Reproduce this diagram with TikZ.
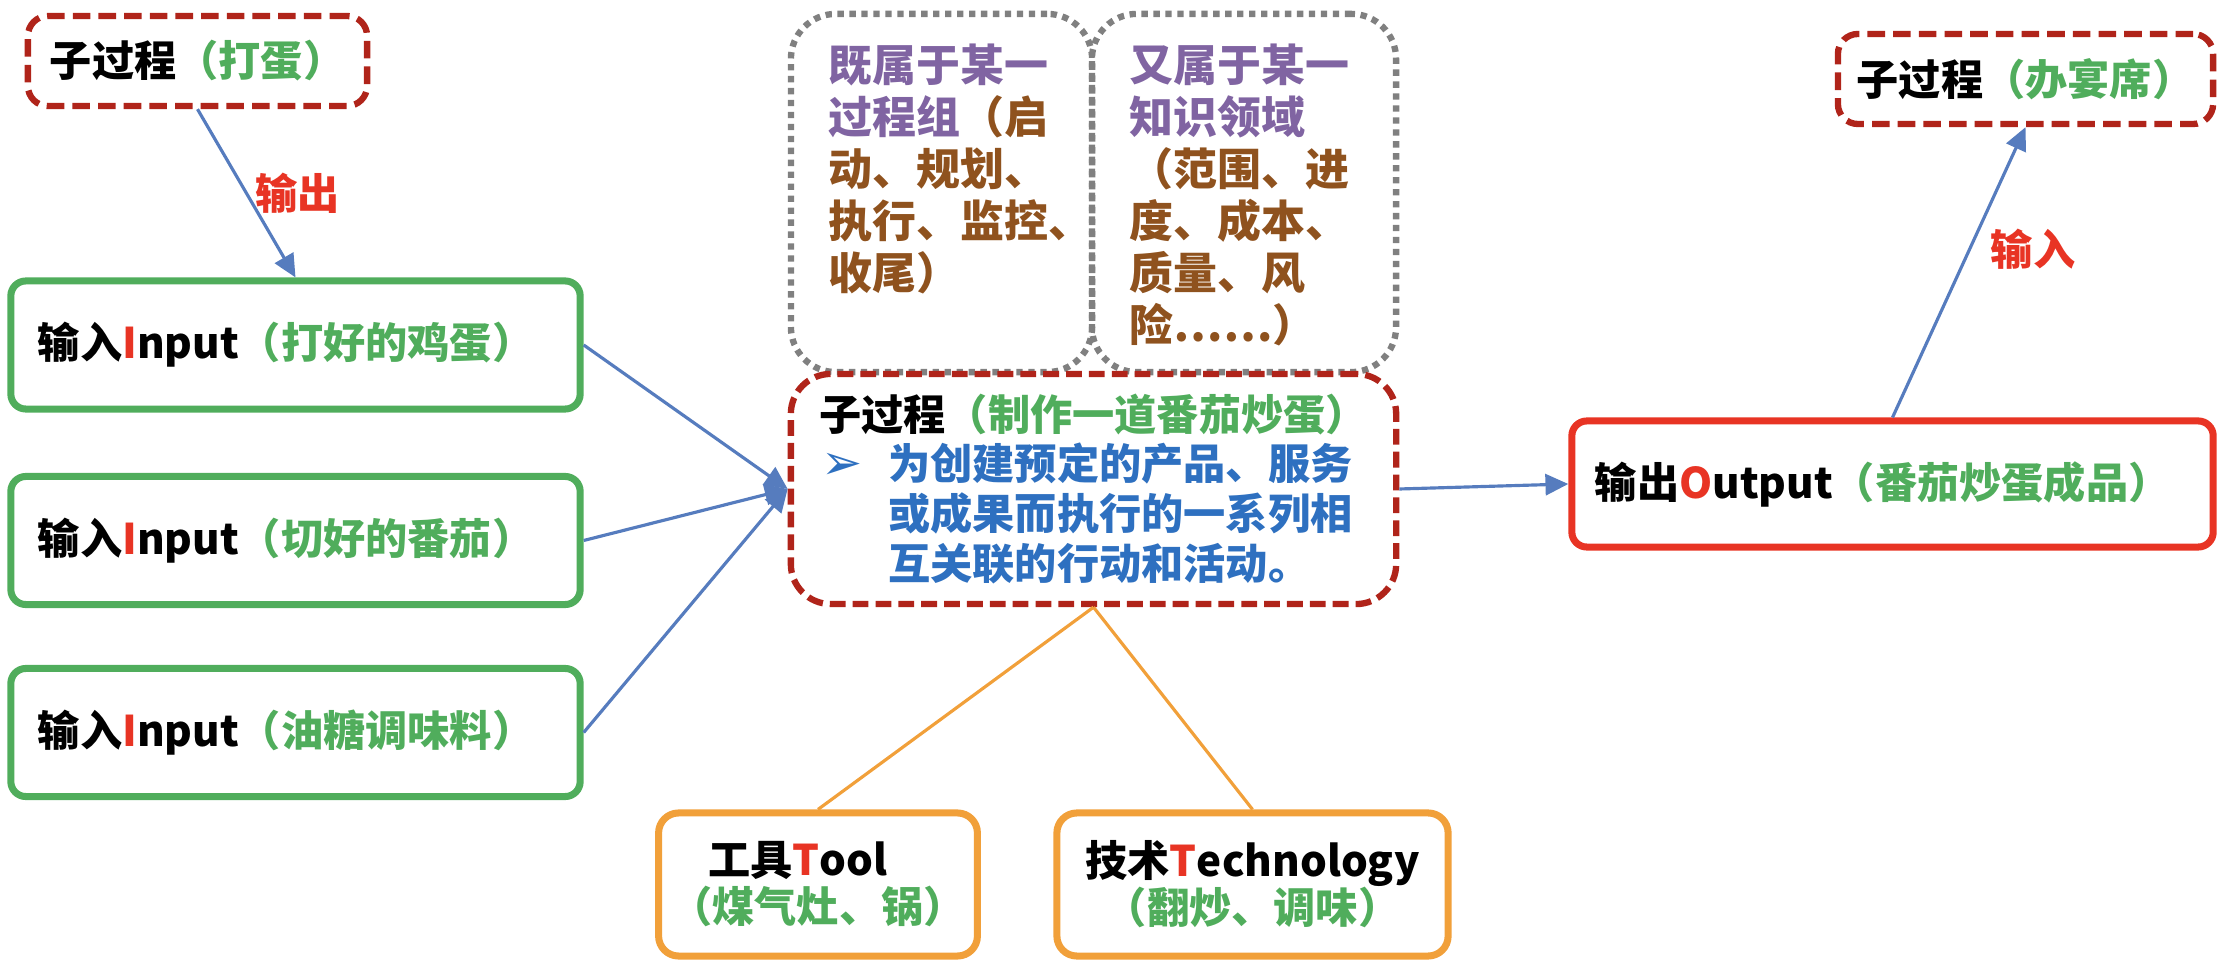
\documentclass[tikz,border=0pt]{standalone}
\usepackage{fontspec}
\setmainfont{Noto Sans CJK SC}
\newfontfamily\symfont{DejaVu Sans}
\usetikzlibrary{arrows.meta}
\definecolor{mydarkred}{RGB}{176,36,26}
\definecolor{mygreen}{RGB}{80,173,92}
\definecolor{myred}{RGB}{232,52,36}
\definecolor{myblue}{RGB}{86,124,190}
\definecolor{mytextblue}{RGB}{46,112,192}
\definecolor{myorange}{RGB}{241,160,58}
\definecolor{mypurple}{RGB}{128,100,162}
\definecolor{mybrown}{RGB}{143,82,30}
\definecolor{mygray}{RGB}{128,128,128}

\begin{document}
\begin{tikzpicture}[x=0.01cm, y=-0.01cm,
    font=\fontsize{12}{14.2}\selectfont\bfseries,
    subbox/.style={draw=mydarkred, line width=1.8pt, dash pattern=on 5pt off 2.3pt, rounded corners=0.2cm, minimum height=0.9cm},
    inbox/.style={draw=mygreen, line width=2pt, rounded corners=0.15cm, minimum height=1.28cm, text width=5.15cm, inner xsep=0.27cm, align=left},
    outbox/.style={draw=myred, line width=2pt, rounded corners=0.15cm, minimum height=1.26cm, text width=5.95cm, inner xsep=0.23cm, align=left},
    knowbox/.style={draw=mygray, line width=1.8pt, dash pattern=on 1.8pt off 1.6pt, rounded corners=0.45cm, minimum height=3.58cm, inner xsep=0.38cm, inner ysep=0.3cm, font=\fontsize{12.5}{14.8}\selectfont\bfseries},
    toolbox/.style={draw=myorange, line width=2pt, rounded corners=0.2cm, minimum height=1.43cm, align=center, font=\fontsize{12}{13.4}\selectfont\bfseries},
    flow/.style={draw=myblue, line width=0.9pt, -{Triangle[length=6.5pt, width=6pt]}},
    tie/.style={draw=myorange, line width=0.9pt}]
    \useasboundingbox (0,0) rectangle (2228,974);

    % Sub-processes before and after
    \node[subbox, minimum width=3.39cm] (egg) at (197.5,61) {子过程\textcolor{mygreen}{（打蛋）}};
    \node[subbox, minimum width=3.75cm] (feast) at (2025.5,79) {子过程\textcolor{mygreen}{（办宴席）}};

    % Inputs
    \node[inbox] (eggs) at (295.5,345) {输入\textcolor{myred}{I}nput\textcolor{mygreen}{（打好的鸡蛋）}};
    \node[inbox] (tomato) at (295.5,540.5) {输入\textcolor{myred}{I}nput\textcolor{mygreen}{（切好的番茄）}};
    \node[inbox] (oil) at (295.5,732.5) {输入\textcolor{myred}{I}nput\textcolor{mygreen}{（油糖调味料）}};

    % Process group and knowledge area
    \node[knowbox, minimum width=3.01cm] (group) at (941.5,193) {\parbox[c][2.98cm][t]{2.25cm}{%
        \textcolor{mypurple}{既属于某一\\过程组}\textcolor{mybrown}{（启\\动、规划、\\执行、监控、\\收尾）}}};
    \node[knowbox, minimum width=3.04cm] (area) at (1244,193) {\parbox[c][2.98cm][t]{2.28cm}{%
        \textcolor{mypurple}{又属于某一\\知识领域}\\\textcolor{mybrown}{（范围、进\\度、成本、\\质量、风\\险……）}}};

    % Main process
    \node[subbox, dash pattern=on 4.5pt off 2pt, rounded corners=0.4cm, minimum width=6.05cm, minimum height=2.3cm, align=left] (cook) at (1093.5,489) {%
        子过程\textcolor{mygreen}{（制作一道番茄炒蛋）}\\
        \textcolor{mytextblue}{\makebox[0.69cm][l]{\hspace{0.02cm}{\symfont\mdseries\fontsize{14}{14}\selectfont ➢}}为创建预定的产品、服务}\\
        \hspace*{0.69cm}\textcolor{mytextblue}{或成果而执行的一系列相}\\
        \hspace*{0.69cm}\textcolor{mytextblue}{互关联的行动和活动。}};

    % Output
    \node[outbox] (dish) at (1892.5,484) {输出\textcolor{myred}{O}utput\textcolor{mygreen}{（番茄炒蛋成品）}};

    % Tools and techniques
    \node[toolbox, minimum width=3.04cm] (tool) at (818,884.5) {工具\textcolor{myred}{T}ool\hspace*{0.4cm}\mbox{}\\\textcolor{mygreen}{（煤气灶、锅）}};
    \node[toolbox, minimum width=3.91cm] (tech) at (1252.5,884.5) {技术\textcolor{myred}{T}echnology\\\textcolor{mygreen}{（翻炒、调味）}};

    % Connectors
    \draw[flow] (egg.south) -- node[right, inner sep=2pt, text=myred] (lblout) {输出} (eggs.north);
    \draw[flow] (eggs.east) -- (cook.west);
    \draw[flow] (tomato.east) -- (cook.west);
    \draw[flow] (oil.east) -- (cook.west);
    \draw[flow] (cook.east) -- (dish.west);
    \draw[flow] (dish.north) -- node[pos=0.58, right=0.08cm, text=myred] (lblin) {输入} (feast.south);
    \draw[tie] (cook.south) -- (tool.north);
    \draw[tie] (cook.south) -- (tech.north);
\end{tikzpicture}
\end{document}
